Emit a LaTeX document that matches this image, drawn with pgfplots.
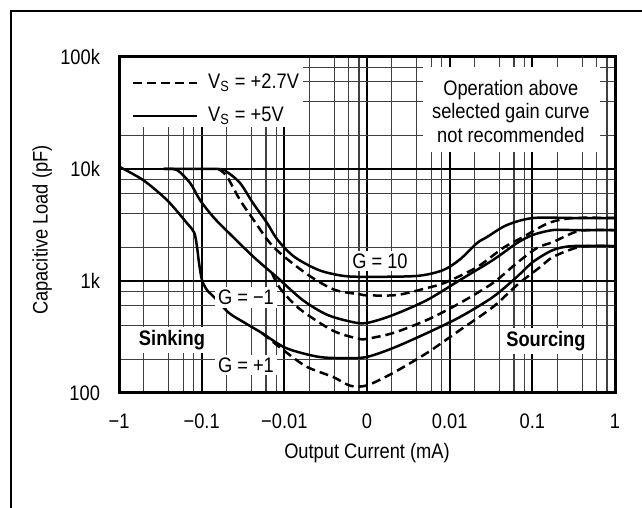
\documentclass[border=0pt]{standalone}
\usepackage{fontspec}
\setmainfont{Liberation Sans}[FakeStretch=0.87]
\usepackage{pgfplots}
\pgfplotsset{compat=1.18}

% x is plotted in "decades": -1 mA -> -3, -0.1 -> -2, -0.01 -> -1, 0 -> 0, 0.01 -> 1, 0.1 -> 2, 1 -> 3
\newcommand{\fnt}{\fontsize{10.5}{11.75}\selectfont}
\begin{document}
\begin{tikzpicture}[x=0.5pt,y=0.5pt]
\path[use as bounding box] (0,0) rectangle (642,508);
\draw[line width=1pt] (11,0) -- (11,496.5) -- (642,496.5);
\begin{axis}[
    at={(59.5pt,57.5pt)}, anchor=south west,
    scale only axis, width=248pt, height=168pt,
    xmin=-3, xmax=3,
    ymode=log, ymin=100, ymax=100000,
    xtick={-3,-2,-1,0,1,2,3},
    xticklabels={−1,−0.1,−0.01,0,0.01,0.1,1},
    ytick={100,1000,10000,100000},
    yticklabels={100,1k,10k,100k},
    minor xtick={-2.69897,-2.39794,-2.22185,-2.09691,
                 -1.69897,-1.39794,-1.22185,-1.09691,
                 -0.69897,-0.39794,-0.22185,-0.09691,
                 0.30103,0.60206,0.77815,0.90309,
                 1.30103,1.60206,1.77815,1.90309,
                 2.30103,2.60206,2.77815,2.90309},
    minor ytick={200,400,600,800,2000,4000,6000,8000,20000,40000,60000,80000},
    grid=both,
    major grid style={black, line width=0.9pt},
    minor grid style={black!75, line width=0.55pt},
    major tick length=0pt, minor tick length=0pt,
    axis line style={line width=1.5pt},
    tick label style={font=\fnt},
    xticklabel style={yshift=-7pt},
    yticklabel style={xshift=-6pt},
    xlabel={Output Current (mA)},
    ylabel={Capacitive Load (pF)},
    label style={font=\fnt},
    xlabel style={at={(axis description cs:0.5,-0.179)}, anchor=center},
    ylabel style={at={(axis description cs:-0.155,0.485)}, anchor=center},
    clip mode=individual,
    every axis plot/.append style={line width=1.25pt, black, no markers, smooth, tension=0.5},
]

% G = +1, VS = +5V
\addplot[solid] coordinates {
    (-3,10500) (-2.71,7980) (-2.42,5280) (-2.18,3300) (-2.09,2700)
    (-2.056,2010) (-2.032,1450) (-1.996,1020) (-1.936,832) (-1.839,705)
    (-1.669,518) (-1.476,422) (-1.27,343) (-0.98,252) (-0.581,210)
    (-0.23,205) (0,210) (0.315,252) (0.726,343) (1.125,477)
    (1.524,720) (1.814,1090) (2.008,1480) (2.25,1890) (2.49,2050) (3,2050)
};
% G = -1, VS = +5V
\addplot[solid] coordinates {
    (-2.46,10000) (-2.30,9800) (-2.14,7500) (-2.02,5280) (-1.86,3730)
    (-1.669,2680) (-1.372,1640) (-1.077,1060) (-0.778,676) (-0.484,500)
    (-0.182,431) (0,422) (0.315,497) (0.726,676) (1.125,1020)
    (1.524,1540) (1.814,2180) (2.008,2580) (2.25,2850) (2.5,2850) (3,2850)
};
% G = 10, VS = +5V
\addplot[solid] coordinates {
    (-2.46,10000) (-1.80,10000) (-1.694,9400) (-1.536,7500) (-1.38,4970)
    (-1.21,3300) (-1.08,2320) (-0.877,1640) (-0.581,1250) (-0.283,1110)
    (0,1090) (0.605,1110) (0.919,1250) (1.125,1560) (1.331,2180) (1.452,2470)
    (1.693,3160) (2.008,3650) (2.5,3650) (3,3650)
};
% G = 10, VS = +2.7V
\addplot[dash pattern=on 4.5pt off 2.5pt] coordinates {
    (-1.80,10000) (-1.70,8700) (-1.536,5280) (-1.372,3510) (-1.173,2180)
    (-0.98,1600) (-0.678,1090) (-0.387,832) (-0.085,760) (0,745)
    (0.363,750) (0.726,866) (0.95,970) (1.331,1330) (1.645,1970)
    (1.887,2470) (2.2,3300) (2.5,3650) (3,3650)
};
% G = -1, VS = +2.7V
\addplot[dash pattern=on 4.5pt off 2.5pt] coordinates {
    (-1.15,1180) (-1.052,860) (-0.811,560) (-0.411,360) (-0.1,305)
    (0,305) (0.315,343) (0.726,449) (1.125,636) (1.524,960)
    (1.814,1450) (2.056,1970) (2.25,2230) (2.52,2740) (2.7,2850) (3,2850)
};
% G = +1, VS = +2.7V
\addplot[dash pattern=on 4.5pt off 2.5pt] coordinates {
    (-1.27,343) (-1.173,300) (-0.968,228) (-0.726,171) (-0.411,139)
    (-0.2,116) (0,117) (0.315,151) (0.726,228) (1.125,365)
    (1.524,586) (1.814,920) (2.093,1330) (2.25,1640) (2.52,1970)
    (2.7,2050) (3,2050)
};

% legend
\fill[white] (rel axis cs:0,0.792) rectangle (rel axis cs:0.371,1);
\draw[line width=1.25pt, dash pattern=on 4.5pt off 2.5pt]
    (rel axis cs:0.028,0.923) -- (rel axis cs:0.157,0.923);
\draw[line width=1.25pt] (rel axis cs:0.028,0.824) -- (rel axis cs:0.157,0.824);
\node[anchor=west, font=\fnt, inner sep=0pt]
    at (rel axis cs:0.179,0.923) {V\textsubscript{S} = +2.7V};
\node[anchor=west, font=\fnt, inner sep=0pt]
    at (rel axis cs:0.179,0.824) {V\textsubscript{S} = +5V};

% note
\fill[white] (rel axis cs:0.613,0.717) rectangle (rel axis cs:0.970,0.970);
\node[align=center, font=\fnt]
    at (rel axis cs:0.79,0.838) {Operation above\\selected gain curve\\not recommended};

% curve labels
\tikzset{lbl/.style={fill=white, inner sep=1.5pt, font=\fnt}}
\node[lbl] at (axis cs:0.157,1510) {G = 10};
\node[lbl] at (axis cs:-1.464,713) {G = −1};
\node[lbl] at (axis cs:-1.464,178) {G = +1};
\node[lbl, font=\fnt\bfseries] at (axis cs:-2.359,297) {Sinking};
\node[lbl, font=\fnt\bfseries] at (axis cs:2.165,291) {Sourcing};

\draw[line width=1.5pt] (rel axis cs:0,0) rectangle (rel axis cs:1,1);
\end{axis}
\end{tikzpicture}
\end{document}
